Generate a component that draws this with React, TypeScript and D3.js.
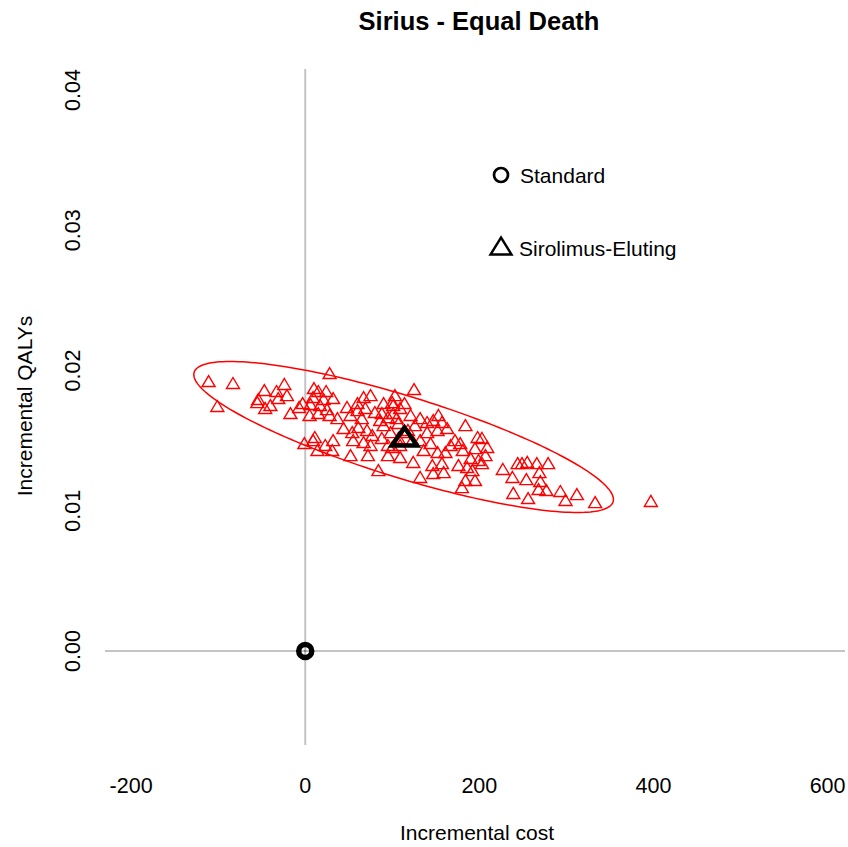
import React from "react";
import * as d3 from "d3";

const simCost = [
  -111, -83, -101, -47, -24, -33, -21, -54, -55, -40, -46, -31, -17, -7, -1,
  28, 10, 15, 24, 9, 21, 32, -3, 6, 17, 25, 5, 15, 28, 37, 48, 60, 67, 75, 60, 69, 52, 65, 44, 54, 61, 71, 77, 55, 67, 75,
  90, 101, 88, 95, 90, 98, 88, 95, 11, 9, 23, 32, 31, 14, 52, 72, 95, 84,
  125, 114, 103, 101, 107, 153, 140, 157, 184, 152, 163, 140, 198, 172, 178, 167, 132, 144, 136, 152, 161, 181, 195, 190,
  199, 207, 109, 124, 146, 157, 176, 186, 147, 159, 132, 184, 195, 180, 100,
  209, 203, 203, 227, 244, 249, 255, 266, 279, 238, 254, 269, 270, 239, 256, 268, 277, 293, 299, 312, 333, 397,
  100, 109, 121, 80, 86, 105, 118, 123, 109, 126, 132, 147, 192, 113, 107,
];
const simQaly = [
  0.01925, 0.01911, 0.01747, 0.01861, 0.01904, 0.01854, 0.01825, 0.01797, 0.01775, 0.01754, 0.01733, 0.01804, 0.01697, 0.0174, 0.01483,
  0.01982, 0.01875, 0.01854, 0.01854, 0.01811, 0.01797, 0.01804, 0.01768, 0.01761, 0.01754, 0.01725, 0.01683, 0.01697, 0.01683, 0.01661, 0.0174, 0.01768, 0.01811, 0.01825, 0.01718, 0.01733, 0.01683, 0.01661, 0.0159, 0.01561, 0.01597, 0.01576, 0.0154, 0.01504, 0.0149, 0.01469,
  0.01768, 0.01754, 0.01697, 0.01668, 0.01611, 0.01561, 0.01519, 0.01469, 0.01526, 0.01504, 0.01469, 0.01504, 0.01433, 0.01433, 0.01397, 0.01397, 0.01397, 0.0129,
  0.01868, 0.01768, 0.01825, 0.01697, 0.01626, 0.01683, 0.01633, 0.01633, 0.01611, 0.01576, 0.0159, 0.01561, 0.01526, 0.01504, 0.01483, 0.01469, 0.01504, 0.01483, 0.01433, 0.01419, 0.01419, 0.01433, 0.01447, 0.01376,
  0.01362, 0.01397, 0.01383, 0.01348, 0.01326, 0.0134, 0.01326, 0.01312, 0.01269, 0.01276, 0.01241, 0.01219, 0.01219, 0.01169, 0.01455,
  0.01455, 0.01519, 0.0134, 0.01298, 0.0134, 0.0134, 0.01348, 0.0134, 0.0134, 0.01241, 0.01226, 0.01276, 0.01212, 0.01127, 0.01091, 0.01155, 0.01148, 0.01141, 0.01077, 0.01119, 0.01062, 0.0107,
  0.01775, 0.01733, 0.01683, 0.01704, 0.01647, 0.01661, 0.01576, 0.01504, 0.01469, 0.01611, 0.01661, 0.01647, 0.0129, 0.01561, 0.01519,
];

const meanCost = [0, 114];
const meanQaly = [0, 0.0153];
const seriesNames = ["Standard", "Sirolimus-Eluting"];

// confidence ellipse: centre and two conjugate semi-diameters (data units)
const ellipseCenter = [113, 0.01526];
const ellipseAxisA = [241, -0.00445];
const ellipseAxisB = [0, -0.00303];

const xTicks = [-200, 0, 200, 400, 600];
const yTicks = [0, 0.01, 0.02, 0.03, 0.04];

const FONT = "'Liberation Sans', Arial, Helvetica, sans-serif";

export default function App() {
  const x = d3.scaleLinear().domain([-230, 620]).range([105, 845]);
  const y = d3.scaleLinear().domain([-0.0067, 0.0415]).range([745, 69]);

  const tri = (cx: number, cy: number, w: number, h: number) =>
    `M${cx},${cy - h / 2}L${cx + w / 2},${cy + h / 2}L${cx - w / 2},${cy + h / 2}Z`;

  const ts = d3.range(0, 200).map((i) => (i / 200) * Math.PI * 2);
  const ellipsePath = d3
    .line<number>()
    .x((t) => x(ellipseCenter[0] + Math.cos(t) * ellipseAxisA[0] + Math.sin(t) * ellipseAxisB[0]))
    .y((t) => y(ellipseCenter[1] + Math.cos(t) * ellipseAxisA[1] + Math.sin(t) * ellipseAxisB[1]))
    .curve(d3.curveLinearClosed)(ts);

  return (
    <svg
      width={848}
      height={847}
      style={{ position: "absolute", left: 0, top: 0, background: "#fff" }}
      fontFamily={FONT}
    >
      <rect x={0} y={0} width={848} height={847} fill="#fff" />
      <text x={479} y={30} textAnchor="middle" fontWeight="bold" fontSize={25.5}>
        Sirius - Equal Death
      </text>

      {/* axes through origin */}
      <line x1={x(0)} x2={x(0)} y1={y.range()[1]} y2={y.range()[0]} stroke="#c4c4c4" strokeWidth={2} />
      <line x1={x.range()[0]} x2={x.range()[1]} y1={y(0)} y2={y(0)} stroke="#c4c4c4" strokeWidth={2} />

      {xTicks.map((t) => (
        <text key={t} x={x(t)} y={793} textAnchor="middle" fontSize={21.5}>
          {t}
        </text>
      ))}
      {yTicks.map((t) => (
        <text
          key={t}
          transform={`translate(80,${y(t)}) rotate(-90)`}
          textAnchor="middle"
          fontSize={21.5}
        >
          {d3.format(".2f")(t)}
        </text>
      ))}
      <text x={477} y={840} textAnchor="middle" fontSize={21}>
        Incremental cost
      </text>
      <text transform={`translate(32,406) rotate(-90)`} textAnchor="middle" fontSize={21}>
        Incremental QALYs
      </text>

      {/* ellipse */}
      <path d={ellipsePath || ""} fill="none" stroke="#ff0000" strokeWidth={1.5} />

      {/* simulations */}
      {simCost.map((c, i) => (
        <path
          key={i}
          d={tri(x(c), y(simQaly[i]), 13, 11)}
          fill="none"
          stroke="#ff0000"
          strokeWidth={1.4}
          strokeLinejoin="miter"
        />
      ))}

      {/* standard at origin */}
      <circle cx={x(meanCost[0])} cy={y(meanQaly[0])} r={6.5} fill="none" stroke="#000" strokeWidth={5.5} />
      <circle cx={x(meanCost[0])} cy={y(meanQaly[0])} r={1.3} fill="#777" />

      {/* mean of sirolimus */}
      <path
        d={tri(x(meanCost[1]), y(meanQaly[1]), 25, 18)}
        fill="none"
        stroke="#000"
        strokeWidth={4.5}
        strokeLinejoin="miter"
      />

      {/* legend */}
      <circle cx={501} cy={175} r={7} fill="none" stroke="#000" strokeWidth={2.7} />
      <text x={520} y={183} fontSize={21}>
        {seriesNames[0]}
      </text>
      <path d={tri(501, 246, 21, 17)} fill="none" stroke="#000" strokeWidth={2.4} />
      <text x={519} y={256} fontSize={21}>
        {seriesNames[1]}
      </text>
    </svg>
  );
}
